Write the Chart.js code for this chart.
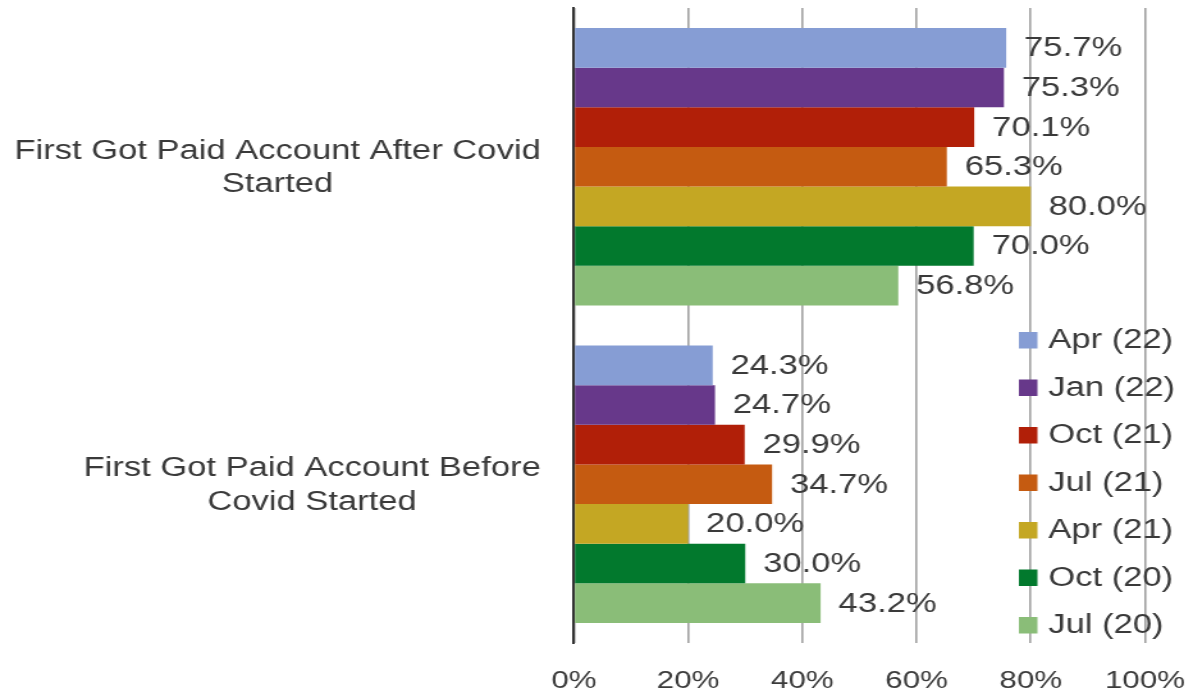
<!DOCTYPE html>
<html>
<head>
<meta charset="utf-8">
<script src="https://cdn.jsdelivr.net/npm/chart.js@4.4.1/dist/chart.umd.min.js"></script>
<style>
  html, body { margin: 0; padding: 0; background: #ffffff; overflow: hidden; }
  #wrap { position: absolute; left: 0; top: 0; width: 936px; height: 697px; transform: scaleX(1.28); transform-origin: 0 0; }
  #c { display: block; width: 936px; height: 697px; }
</style>
</head>
<body>
<div id="wrap"><canvas id="c" width="936" height="697"></canvas></div>
<script>
const categories = [
  ["First Got Paid Account After Covid", "Started"],
  ["First Got Paid Account Before", "Covid Started"]
];
const seriesNames = ["Apr (22)", "Jan (22)", "Oct (21)", "Jul (21)", "Apr (21)", "Oct (20)", "Jul (20)"];
const apr22 = [75.7, 24.3];
const jan22 = [75.3, 24.7];
const oct21 = [70.1, 29.9];
const jul21 = [65.3, 34.7];
const apr21 = [80.0, 20.0];
const oct20 = [70.0, 30.0];
const jul20 = [56.8, 43.2];
const seriesValues = [apr22, jan22, oct21, jul21, apr21, oct20, jul20];
const seriesColors = ["#869dd4", "#67388a", "#b11f08", "#c55b11", "#c4a723", "#02792d", "#8abd78"];
const xTicks = [0, 20, 40, 60, 80, 100];

const FONT = '"Liberation Sans", Arial, sans-serif';
const TEXT = '#3a3a3a';

const valueLabels = {
  id: 'valueLabels',
  afterDatasetsDraw(chart) {
    const ctx = chart.ctx;
    ctx.save();
    ctx.font = '27px ' + FONT;
    ctx.fillStyle = TEXT;
    ctx.textAlign = 'left';
    ctx.textBaseline = 'middle';
    chart.data.datasets.forEach((ds, i) => {
      const meta = chart.getDatasetMeta(i);
      meta.data.forEach((bar, j) => {
        const v = ds.data[j];
        ctx.fillText(v.toFixed(1) + '%', bar.x + 14, bar.y + 1);
      });
    });
    ctx.restore();
  }
};

const categoryLabels = {
  id: 'categoryLabels',
  afterDraw(chart) {
    const ctx = chart.ctx;
    const ys = chart.scales.y;
    const right = chart.chartArea.left - 26;
    ctx.save();
    ctx.font = '27px ' + FONT;
    ctx.fillStyle = TEXT;
    ctx.textAlign = 'center';
    ctx.textBaseline = 'middle';
    chart.data.labels.forEach((lines, i) => {
      const yc = ys.getPixelForValue(i);
      const widest = Math.max(...lines.map(l => ctx.measureText(l).width));
      const cx = right - widest / 2;
      const lh = 33.5;
      lines.forEach((l, k) => {
        ctx.fillText(l, cx, yc + 1.5 + (k - (lines.length - 1) / 2) * lh);
      });
    });
    ctx.restore();
  }
};

const customLegend = {
  id: 'customLegend',
  afterDraw(chart) {
    const ctx = chart.ctx;
    ctx.save();
    ctx.font = '27px ' + FONT;
    ctx.textAlign = 'left';
    ctx.textBaseline = 'middle';
    const x0 = 796, y0 = 340, step = 47.5;
    chart.data.datasets.forEach((ds, i) => {
      const y = y0 + i * step;
      ctx.fillStyle = ds.backgroundColor;
      ctx.fillRect(x0, y - 8, 14.5, 16.5);
      ctx.fillStyle = TEXT;
      ctx.fillText(ds.label, x0 + 23, y + 1);
    });
    ctx.restore();
  }
};

new Chart(document.getElementById('c'), {
  type: 'bar',
  data: {
    labels: categories,
    datasets: seriesNames.map((n, i) => ({
      label: n,
      data: seriesValues[i],
      backgroundColor: seriesColors[i],
      borderWidth: 0
    }))
  },
  options: {
    indexAxis: 'y',
    responsive: false,
    animation: false,
    devicePixelRatio: 1,
    categoryPercentage: 0.874,
    barPercentage: 1.0,
    layout: { padding: { top: 8, right: 41.5, bottom: 0, left: 0 } },
    plugins: {
      legend: { display: false },
      tooltip: { enabled: false }
    },
    scales: {
      x: {
        min: 0,
        max: 100,
        afterBuildTicks(scale) { scale.ticks = xTicks.map(v => ({ value: v })); },
        afterFit(scale) { scale.paddingLeft = 0; scale.paddingRight = 0; scale.height = 54; },
        ticks: {
          callback: v => v + '%',
          font: { family: FONT, size: 24.5 },
          color: TEXT,
          padding: 24,
          maxRotation: 0
        },
        grid: { color: '#a0a0a0', lineWidth: 1.6, drawTicks: false },
        border: { display: false }
      },
      y: {
        afterFit(scale) { scale.width = 448.4; scale.paddingTop = 0; scale.paddingBottom = 0; },
        ticks: { display: false },
        grid: { display: false, drawTicks: false },
        border: { display: true, color: '#333333', width: 2 }
      }
    }
  },
  plugins: [valueLabels, categoryLabels, customLegend]
});
</script>
</body>
</html>
